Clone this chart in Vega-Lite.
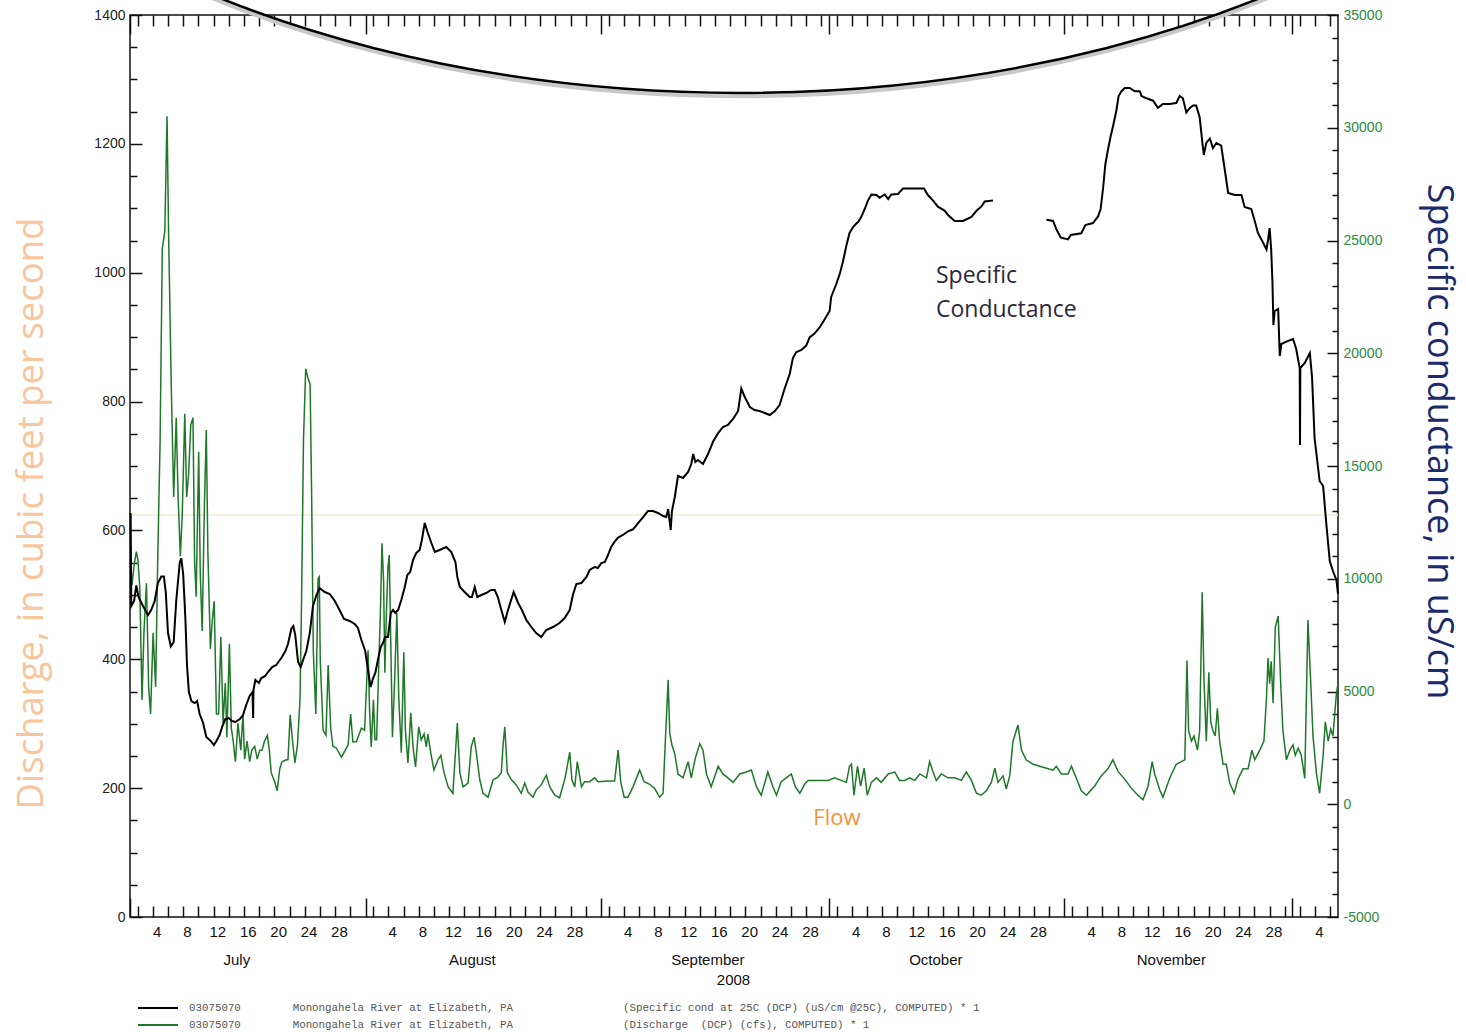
{
  "$schema": "https://vega.github.io/schema/vega-lite/v6.json",
  "width": 1208,
  "height": 902,
  "autosize": "none",
  "padding": {"left": 130, "top": 15, "right": 128, "bottom": 115},
  "background": "white",
  "params": [
    {"name": "xt", "expr": "[datetime(2008,6,1),datetime(2008,6,2),datetime(2008,6,4),datetime(2008,6,6),datetime(2008,6,8),datetime(2008,6,10),datetime(2008,6,12),datetime(2008,6,14),datetime(2008,6,16),datetime(2008,6,18),datetime(2008,6,20),datetime(2008,6,22),datetime(2008,6,24),datetime(2008,6,26),datetime(2008,6,28),datetime(2008,6,30),datetime(2008,7,1),datetime(2008,7,2),datetime(2008,7,4),datetime(2008,7,6),datetime(2008,7,8),datetime(2008,7,10),datetime(2008,7,12),datetime(2008,7,14),datetime(2008,7,16),datetime(2008,7,18),datetime(2008,7,20),datetime(2008,7,22),datetime(2008,7,24),datetime(2008,7,26),datetime(2008,7,28),datetime(2008,7,30),datetime(2008,8,1),datetime(2008,8,2),datetime(2008,8,4),datetime(2008,8,6),datetime(2008,8,8),datetime(2008,8,10),datetime(2008,8,12),datetime(2008,8,14),datetime(2008,8,16),datetime(2008,8,18),datetime(2008,8,20),datetime(2008,8,22),datetime(2008,8,24),datetime(2008,8,26),datetime(2008,8,28),datetime(2008,8,30),datetime(2008,9,1),datetime(2008,9,2),datetime(2008,9,4),datetime(2008,9,6),datetime(2008,9,8),datetime(2008,9,10),datetime(2008,9,12),datetime(2008,9,14),datetime(2008,9,16),datetime(2008,9,18),datetime(2008,9,20),datetime(2008,9,22),datetime(2008,9,24),datetime(2008,9,26),datetime(2008,9,28),datetime(2008,9,30),datetime(2008,10,1),datetime(2008,10,2),datetime(2008,10,4),datetime(2008,10,6),datetime(2008,10,8),datetime(2008,10,10),datetime(2008,10,12),datetime(2008,10,14),datetime(2008,10,16),datetime(2008,10,18),datetime(2008,10,20),datetime(2008,10,22),datetime(2008,10,24),datetime(2008,10,26),datetime(2008,10,28),datetime(2008,10,30),datetime(2008,11,1),datetime(2008,11,2),datetime(2008,11,4),datetime(2008,11,6)]"},
    {"name": "xd", "expr": "[datetime(2008,6,4,12),datetime(2008,6,8,12),datetime(2008,6,12,12),datetime(2008,6,16,12),datetime(2008,6,20,12),datetime(2008,6,24,12),datetime(2008,6,28,12),datetime(2008,7,4,12),datetime(2008,7,8,12),datetime(2008,7,12,12),datetime(2008,7,16,12),datetime(2008,7,20,12),datetime(2008,7,24,12),datetime(2008,7,28,12),datetime(2008,8,4,12),datetime(2008,8,8,12),datetime(2008,8,12,12),datetime(2008,8,16,12),datetime(2008,8,20,12),datetime(2008,8,24,12),datetime(2008,8,28,12),datetime(2008,9,4,12),datetime(2008,9,8,12),datetime(2008,9,12,12),datetime(2008,9,16,12),datetime(2008,9,20,12),datetime(2008,9,24,12),datetime(2008,9,28,12),datetime(2008,10,4,12),datetime(2008,10,8,12),datetime(2008,10,12,12),datetime(2008,10,16,12),datetime(2008,10,20,12),datetime(2008,10,24,12),datetime(2008,10,28,12),datetime(2008,11,4,12)]"},
    {"name": "xm", "expr": "[datetime(2008,6,15),datetime(2008,7,15),datetime(2008,8,15),datetime(2008,9,15),datetime(2008,10,15)]"}
  ],
  "datasets": {
    "flow": [
      {"t":"2008-07-01T02:00","q":554},{"t":"2008-07-01T06:00","q":515},{"t":"2008-07-01T13:00","q":546},{"t":"2008-07-01T20:00","q":567},
      {"t":"2008-07-02T01:00","q":554},{"t":"2008-07-02T07:00","q":511},{"t":"2008-07-02T14:00","q":337},{"t":"2008-07-02T20:00","q":441},
      {"t":"2008-07-03T04:00","q":518},{"t":"2008-07-03T11:00","q":357},{"t":"2008-07-03T17:00","q":315},{"t":"2008-07-04T01:00","q":441},
      {"t":"2008-07-04T09:00","q":357},{"t":"2008-07-04T16:00","q":567},{"t":"2008-07-04T23:00","q":736},{"t":"2008-07-05T06:00","q":1037},
      {"t":"2008-07-05T14:00","q":1065},{"t":"2008-07-05T21:00","q":1243},{"t":"2008-07-06T02:00","q":1059},{"t":"2008-07-06T10:00","q":833},
      {"t":"2008-07-06T18:00","q":652},{"t":"2008-07-07T02:00","q":775},{"t":"2008-07-07T08:00","q":652},{"t":"2008-07-07T15:00","q":560},
      {"t":"2008-07-07T21:00","q":624},{"t":"2008-07-08T05:00","q":781},{"t":"2008-07-08T11:00","q":652},{"t":"2008-07-08T17:00","q":686},
      {"t":"2008-07-09T00:00","q":764},{"t":"2008-07-09T07:00","q":775},{"t":"2008-07-09T12:00","q":553},{"t":"2008-07-09T17:00","q":497},
      {"t":"2008-07-10T01:00","q":722},{"t":"2008-07-10T06:00","q":532},{"t":"2008-07-10T12:00","q":444},{"t":"2008-07-10T19:00","q":638},
      {"t":"2008-07-11T01:00","q":756},{"t":"2008-07-11T06:00","q":567},{"t":"2008-07-11T14:00","q":416},{"t":"2008-07-11T20:00","q":461},
      {"t":"2008-07-12T02:00","q":490},{"t":"2008-07-12T09:00","q":315},{"t":"2008-07-12T16:00","q":315},{"t":"2008-07-12T23:00","q":435},
      {"t":"2008-07-13T06:00","q":301},{"t":"2008-07-13T13:00","q":363},{"t":"2008-07-13T18:00","q":279},{"t":"2008-07-14T02:00","q":424},
      {"t":"2008-07-14T08:00","q":293},{"t":"2008-07-14T14:00","q":273},{"t":"2008-07-14T21:00","q":241},{"t":"2008-07-15T05:00","q":301},
      {"t":"2008-07-15T14:00","q":259},{"t":"2008-07-15T21:00","q":315},{"t":"2008-07-16T02:00","q":245},{"t":"2008-07-16T10:00","q":273},
      {"t":"2008-07-16T18:00","q":241},{"t":"2008-07-17T01:00","q":259},{"t":"2008-07-17T10:00","q":265},{"t":"2008-07-17T18:00","q":245},
      {"t":"2008-07-18T02:00","q":259},{"t":"2008-07-18T09:00","q":259},{"t":"2008-07-18T17:00","q":273},{"t":"2008-07-19T02:00","q":282},
      {"t":"2008-07-19T08:00","q":259},{"t":"2008-07-19T14:00","q":224},{"t":"2008-07-20T01:00","q":210},{"t":"2008-07-20T09:00","q":196},
      {"t":"2008-07-20T17:00","q":230},{"t":"2008-07-21T00:00","q":241},{"t":"2008-07-21T14:00","q":244},{"t":"2008-07-21T19:00","q":244},
      {"t":"2008-07-22T02:00","q":314},{"t":"2008-07-22T09:00","q":275},{"t":"2008-07-22T17:00","q":239},{"t":"2008-07-23T01:00","q":267},
      {"t":"2008-07-23T09:00","q":337},{"t":"2008-07-23T14:00","q":492},{"t":"2008-07-23T20:00","q":740},{"t":"2008-07-24T03:00","q":851},
      {"t":"2008-07-24T10:00","q":837},{"t":"2008-07-24T17:00","q":827},{"t":"2008-07-24T22:00","q":647},{"t":"2008-07-25T03:00","q":414},
      {"t":"2008-07-25T11:00","q":315},{"t":"2008-07-25T18:00","q":525},{"t":"2008-07-25T22:00","q":528},{"t":"2008-07-26T01:00","q":399},
      {"t":"2008-07-26T10:00","q":290},{"t":"2008-07-26T19:00","q":282},{"t":"2008-07-27T02:00","q":391},{"t":"2008-07-27T10:00","q":293},
      {"t":"2008-07-27T17:00","q":265},{"t":"2008-07-28T04:00","q":262},{"t":"2008-07-28T20:00","q":248},{"t":"2008-07-29T17:00","q":267},
      {"t":"2008-07-30T01:00","q":315},{"t":"2008-07-30T08:00","q":272},{"t":"2008-07-30T19:00","q":272},{"t":"2008-07-31T11:00","q":293},
      {"t":"2008-07-31T21:00","q":290},{"t":"2008-08-01T08:00","q":414},{"t":"2008-08-01T13:00","q":317},{"t":"2008-08-01T18:00","q":264},
      {"t":"2008-08-02T01:00","q":337},{"t":"2008-08-02T06:00","q":275},{"t":"2008-08-02T11:00","q":275},{"t":"2008-08-02T18:00","q":394},
      {"t":"2008-08-02T23:00","q":472},{"t":"2008-08-03T04:00","q":580},{"t":"2008-08-03T09:00","q":523},{"t":"2008-08-03T13:00","q":379},
      {"t":"2008-08-03T18:00","q":472},{"t":"2008-08-03T23:00","q":543},{"t":"2008-08-04T03:00","q":562},{"t":"2008-08-04T08:00","q":419},
      {"t":"2008-08-04T13:00","q":279},{"t":"2008-08-04T20:00","q":368},{"t":"2008-08-05T03:00","q":472},{"t":"2008-08-05T09:00","q":341},
      {"t":"2008-08-05T17:00","q":255},{"t":"2008-08-06T01:00","q":411},{"t":"2008-08-06T06:00","q":290},{"t":"2008-08-06T14:00","q":239},
      {"t":"2008-08-06T23:00","q":317},{"t":"2008-08-07T06:00","q":264},{"t":"2008-08-07T14:00","q":233},{"t":"2008-08-08T00:00","q":295},
      {"t":"2008-08-08T08:00","q":275},{"t":"2008-08-08T17:00","q":284},{"t":"2008-08-09T00:00","q":264},{"t":"2008-08-09T05:00","q":284},
      {"t":"2008-08-09T14:00","q":255},{"t":"2008-08-10T00:00","q":228},{"t":"2008-08-10T13:00","q":244},{"t":"2008-08-10T22:00","q":251},
      {"t":"2008-08-11T08:00","q":224},{"t":"2008-08-11T21:00","q":202},{"t":"2008-08-12T12:00","q":192},{"t":"2008-08-12T20:00","q":255},
      {"t":"2008-08-13T02:00","q":301},{"t":"2008-08-13T10:00","q":224},{"t":"2008-08-13T20:00","q":202},{"t":"2008-08-14T12:00","q":208},
      {"t":"2008-08-14T22:00","q":264},{"t":"2008-08-15T07:00","q":279},{"t":"2008-08-15T14:00","q":255},{"t":"2008-08-16T01:00","q":213},
      {"t":"2008-08-16T11:00","q":192},{"t":"2008-08-17T03:00","q":186},{"t":"2008-08-17T19:00","q":213},{"t":"2008-08-18T10:00","q":217},
      {"t":"2008-08-18T21:00","q":224},{"t":"2008-08-19T02:00","q":264},{"t":"2008-08-19T08:00","q":295},{"t":"2008-08-19T16:00","q":224},
      {"t":"2008-08-20T05:00","q":213},{"t":"2008-08-20T20:00","q":205},{"t":"2008-08-21T12:00","q":192},{"t":"2008-08-21T23:00","q":208},
      {"t":"2008-08-22T09:00","q":194},{"t":"2008-08-23T01:00","q":186},{"t":"2008-08-23T11:00","q":197},{"t":"2008-08-24T03:00","q":205},
      {"t":"2008-08-24T19:00","q":220},{"t":"2008-08-25T06:00","q":202},{"t":"2008-08-25T22:00","q":189},{"t":"2008-08-26T13:00","q":185},
      {"t":"2008-08-27T05:00","q":213},{"t":"2008-08-27T13:00","q":233},{"t":"2008-08-27T21:00","q":256},{"t":"2008-08-28T04:00","q":213},
      {"t":"2008-08-28T13:00","q":202},{"t":"2008-08-28T21:00","q":241},{"t":"2008-08-29T10:00","q":202},{"t":"2008-08-29T20:00","q":210},
      {"t":"2008-08-30T12:00","q":210},{"t":"2008-08-31T04:00","q":216},{"t":"2008-08-31T14:00","q":210},{"t":"2008-09-01T22:00","q":211},
      {"t":"2008-09-02T19:00","q":211},{"t":"2008-09-03T06:00","q":259},{"t":"2008-09-03T14:00","q":210},{"t":"2008-09-04T01:00","q":186},
      {"t":"2008-09-04T13:00","q":186},{"t":"2008-09-05T05:00","q":202},{"t":"2008-09-06T02:00","q":228},{"t":"2008-09-06T16:00","q":210},
      {"t":"2008-09-07T10:00","q":206},{"t":"2008-09-08T02:00","q":199},{"t":"2008-09-08T17:00","q":186},{"t":"2008-09-09T04:00","q":192},
      {"t":"2008-09-09T11:00","q":272},{"t":"2008-09-09T20:00","q":368},{"t":"2008-09-10T01:00","q":285},{"t":"2008-09-10T08:00","q":267},
      {"t":"2008-09-10T17:00","q":253},{"t":"2008-09-11T03:00","q":222},{"t":"2008-09-11T19:00","q":216},{"t":"2008-09-12T11:00","q":241},
      {"t":"2008-09-12T21:00","q":216},{"t":"2008-09-13T10:00","q":247},{"t":"2008-09-14T00:00","q":269},{"t":"2008-09-14T10:00","q":259},
      {"t":"2008-09-14T21:00","q":222},{"t":"2008-09-15T12:00","q":202},{"t":"2008-09-16T10:00","q":234},{"t":"2008-09-17T01:00","q":222},
      {"t":"2008-09-17T17:00","q":216},{"t":"2008-09-18T09:00","q":209},{"t":"2008-09-19T06:00","q":222},{"t":"2008-09-20T03:00","q":225},
      {"t":"2008-09-20T19:00","q":228},{"t":"2008-09-21T11:00","q":202},{"t":"2008-09-22T02:00","q":189},{"t":"2008-09-22T23:00","q":225},
      {"t":"2008-09-23T15:00","q":202},{"t":"2008-09-24T02:00","q":189},{"t":"2008-09-24T17:00","q":210},{"t":"2008-09-25T09:00","q":216},
      {"t":"2008-09-26T01:00","q":222},{"t":"2008-09-26T14:00","q":202},{"t":"2008-09-27T04:00","q":192},{"t":"2008-09-27T19:00","q":206},
      {"t":"2008-09-28T06:00","q":212},{"t":"2008-09-29T03:00","q":212},{"t":"2008-09-30T00:00","q":212},{"t":"2008-09-30T21:00","q":212},
      {"t":"2008-10-01T18:00","q":216},{"t":"2008-10-02T15:00","q":212},{"t":"2008-10-03T07:00","q":209},{"t":"2008-10-03T17:00","q":234},
      {"t":"2008-10-03T23:00","q":237},{"t":"2008-10-04T07:00","q":189},{"t":"2008-10-04T18:00","q":234},{"t":"2008-10-05T04:00","q":203},
      {"t":"2008-10-05T15:00","q":231},{"t":"2008-10-06T01:00","q":189},{"t":"2008-10-06T14:00","q":209},{"t":"2008-10-07T06:00","q":216},
      {"t":"2008-10-07T21:00","q":209},{"t":"2008-10-08T19:00","q":222},{"t":"2008-10-09T16:00","q":225},{"t":"2008-10-10T07:00","q":212},
      {"t":"2008-10-10T23:00","q":212},{"t":"2008-10-11T15:00","q":216},{"t":"2008-10-12T07:00","q":212},{"t":"2008-10-12T23:00","q":222},
      {"t":"2008-10-13T20:00","q":216},{"t":"2008-10-14T06:00","q":241},{"t":"2008-10-14T17:00","q":225},{"t":"2008-10-15T03:00","q":212},
      {"t":"2008-10-15T19:00","q":222},{"t":"2008-10-16T16:00","q":216},{"t":"2008-10-17T13:00","q":216},{"t":"2008-10-18T10:00","q":212},
      {"t":"2008-10-19T02:00","q":225},{"t":"2008-10-19T18:00","q":212},{"t":"2008-10-20T10:00","q":192},{"t":"2008-10-21T01:00","q":189},
      {"t":"2008-10-21T17:00","q":196},{"t":"2008-10-22T09:00","q":209},{"t":"2008-10-22T20:00","q":231},{"t":"2008-10-23T06:00","q":209},
      {"t":"2008-10-23T22:00","q":219},{"t":"2008-10-24T08:00","q":199},{"t":"2008-10-24T19:00","q":219},{"t":"2008-10-25T05:00","q":272},
      {"t":"2008-10-25T21:00","q":298},{"t":"2008-10-26T08:00","q":259},{"t":"2008-10-26T23:00","q":244},{"t":"2008-10-27T21:00","q":237},
      {"t":"2008-10-28T18:00","q":234},{"t":"2008-10-29T15:00","q":231},{"t":"2008-10-30T12:00","q":228},{"t":"2008-10-30T22:00","q":234},
      {"t":"2008-10-31T14:00","q":222},{"t":"2008-11-01T11:00","q":222},{"t":"2008-11-01T22:00","q":234},{"t":"2008-11-02T13:00","q":216},
      {"t":"2008-11-03T05:00","q":196},{"t":"2008-11-03T21:00","q":189},{"t":"2008-11-04T23:00","q":203},{"t":"2008-11-05T20:00","q":219},
      {"t":"2008-11-06T17:00","q":230},{"t":"2008-11-07T09:00","q":244},{"t":"2008-11-08T01:00","q":226},{"t":"2008-11-08T22:00","q":214},
      {"t":"2008-11-09T19:00","q":200},{"t":"2008-11-10T16:00","q":189},{"t":"2008-11-11T08:00","q":182},{"t":"2008-11-12T00:00","q":203},
      {"t":"2008-11-12T13:00","q":241},{"t":"2008-11-12T21:00","q":222},{"t":"2008-11-13T13:00","q":197},{"t":"2008-11-13T23:00","q":186},
      {"t":"2008-11-14T20:00","q":215},{"t":"2008-11-15T17:00","q":237},{"t":"2008-11-16T20:00","q":244},{"t":"2008-11-17T03:00","q":398},
      {"t":"2008-11-17T08:00","q":289},{"t":"2008-11-17T17:00","q":273},{"t":"2008-11-18T01:00","q":281},{"t":"2008-11-18T12:00","q":259},
      {"t":"2008-11-18T19:00","q":289},{"t":"2008-11-19T03:00","q":504},{"t":"2008-11-19T09:00","q":362},{"t":"2008-11-19T16:00","q":273},
      {"t":"2008-11-20T00:00","q":380},{"t":"2008-11-20T06:00","q":303},{"t":"2008-11-20T13:00","q":289},{"t":"2008-11-20T20:00","q":281},
      {"t":"2008-11-21T03:00","q":324},{"t":"2008-11-21T10:00","q":273},{"t":"2008-11-21T21:00","q":237},{"t":"2008-11-22T07:00","q":237},
      {"t":"2008-11-22T18:00","q":208},{"t":"2008-11-23T08:00","q":192},{"t":"2008-11-23T20:00","q":214},{"t":"2008-11-24T12:00","q":230},
      {"t":"2008-11-25T04:00","q":230},{"t":"2008-11-25T16:00","q":259},{"t":"2008-11-26T01:00","q":244},{"t":"2008-11-26T17:00","q":259},
      {"t":"2008-11-27T06:00","q":273},{"t":"2008-11-27T14:00","q":340},{"t":"2008-11-27T19:00","q":402},{"t":"2008-11-28T00:00","q":362},
      {"t":"2008-11-28T05:00","q":397},{"t":"2008-11-28T11:00","q":332},{"t":"2008-11-28T18:00","q":450},{"t":"2008-11-29T03:00","q":467},
      {"t":"2008-11-29T11:00","q":362},{"t":"2008-11-29T18:00","q":289},{"t":"2008-11-30T05:00","q":244},{"t":"2008-11-30T16:00","q":259},
      {"t":"2008-12-01T02:00","q":267},{"t":"2008-12-01T09:00","q":251},{"t":"2008-12-01T18:00","q":262},{"t":"2008-12-02T04:00","q":251},
      {"t":"2008-12-02T15:00","q":215},{"t":"2008-12-03T01:00","q":461},{"t":"2008-12-03T10:00","q":362},{"t":"2008-12-03T17:00","q":281},
      {"t":"2008-12-04T04:00","q":222},{"t":"2008-12-04T14:00","q":192},{"t":"2008-12-05T01:00","q":251},{"t":"2008-12-05T08:00","q":303},
      {"t":"2008-12-05T17:00","q":273},{"t":"2008-12-06T01:00","q":292},{"t":"2008-12-06T08:00","q":281},{"t":"2008-12-06T19:00","q":347},
      {"t":"2008-12-07T00:00","q":362}
    ],
    "cond": [
      {"t":"2008-07-01T02:00","c":12916},{"t":"2008-07-01T04:00","c":8792},{"t":"2008-07-01T13:00","c":9013},{"t":"2008-07-01T20:00","c":9701},
      {"t":"2008-07-02T03:00","c":9191},{"t":"2008-07-02T17:00","c":8792},{"t":"2008-07-03T09:00","c":8392},{"t":"2008-07-03T19:00","c":8614},
      {"t":"2008-07-04T06:00","c":9013},{"t":"2008-07-04T16:00","c":9812},{"t":"2008-07-05T03:00","c":10100},{"t":"2008-07-05T11:00","c":10100},
      {"t":"2008-07-05T17:00","c":9412},{"t":"2008-07-06T00:00","c":7594},{"t":"2008-07-06T09:00","c":6996},{"t":"2008-07-06T18:00","c":7195},
      {"t":"2008-07-07T02:00","c":9013},{"t":"2008-07-07T13:00","c":10698},{"t":"2008-07-07T18:00","c":10902},{"t":"2008-07-08T00:00","c":10211},
      {"t":"2008-07-08T07:00","c":8215},{"t":"2008-07-08T12:00","c":6175},{"t":"2008-07-08T18:00","c":4978},{"t":"2008-07-09T02:00","c":4579},
      {"t":"2008-07-09T12:00","c":4490},{"t":"2008-07-09T20:00","c":4579},{"t":"2008-07-10T04:00","c":4002},{"t":"2008-07-10T15:00","c":3603},
      {"t":"2008-07-11T01:00","c":2982},{"t":"2008-07-11T15:00","c":2805},{"t":"2008-07-12T01:00","c":2627},{"t":"2008-07-12T09:00","c":2805},
      {"t":"2008-07-12T19:00","c":3071},{"t":"2008-07-13T04:00","c":3470},{"t":"2008-07-13T13:00","c":3780},{"t":"2008-07-14T00:00","c":3825},
      {"t":"2008-07-14T10:00","c":3692},{"t":"2008-07-14T21:00","c":3647},{"t":"2008-07-15T11:00","c":3780},{"t":"2008-07-15T21:00","c":3958},
      {"t":"2008-07-16T07:00","c":4401},{"t":"2008-07-16T18:00","c":4800},{"t":"2008-07-17T03:00","c":4978},{"t":"2008-07-17T05:00","c":3825},
      {"t":"2008-07-17T06:00","c":5067},{"t":"2008-07-17T12:00","c":5510},{"t":"2008-07-17T23:00","c":5377},{"t":"2008-07-18T07:00","c":5599},
      {"t":"2008-07-18T19:00","c":5687},{"t":"2008-07-19T04:00","c":5865},{"t":"2008-07-19T17:00","c":6086},{"t":"2008-07-20T06:00","c":6175},
      {"t":"2008-07-20T22:00","c":6486},{"t":"2008-07-21T11:00","c":6796},{"t":"2008-07-21T19:00","c":7106},{"t":"2008-07-22T06:00","c":7794},
      {"t":"2008-07-22T12:00","c":7905},{"t":"2008-07-22T18:00","c":7506},{"t":"2008-07-23T03:00","c":6308},{"t":"2008-07-23T11:00","c":6086},
      {"t":"2008-07-23T21:00","c":6486},{"t":"2008-07-24T05:00","c":6796},{"t":"2008-07-24T16:00","c":7594},{"t":"2008-07-25T02:00","c":8792},
      {"t":"2008-07-25T13:00","c":9279},{"t":"2008-07-25T23:00","c":9590},{"t":"2008-07-26T15:00","c":9412},{"t":"2008-07-27T07:00","c":9324},
      {"t":"2008-07-27T23:00","c":9013},{"t":"2008-07-28T14:00","c":8614},{"t":"2008-07-29T04:00","c":8215},{"t":"2008-07-29T22:00","c":8126},
      {"t":"2008-07-30T14:00","c":7993},{"t":"2008-07-31T00:00","c":7816},{"t":"2008-07-31T11:00","c":7284},{"t":"2008-07-31T23:00","c":6796},
      {"t":"2008-08-01T09:00","c":5865},{"t":"2008-08-01T16:00","c":5200},{"t":"2008-08-02T00:00","c":5599},{"t":"2008-08-02T07:00","c":5820},
      {"t":"2008-08-02T15:00","c":6397},{"t":"2008-08-03T00:00","c":6973},{"t":"2008-08-03T07:00","c":7151},{"t":"2008-08-03T14:00","c":7417},
      {"t":"2008-08-03T23:00","c":7417},{"t":"2008-08-04T08:00","c":8481},{"t":"2008-08-04T15:00","c":8614},{"t":"2008-08-04T22:00","c":8481},
      {"t":"2008-08-05T07:00","c":8614},{"t":"2008-08-05T17:00","c":9058},{"t":"2008-08-06T04:00","c":9634},{"t":"2008-08-06T12:00","c":10166},
      {"t":"2008-08-06T21:00","c":10299},{"t":"2008-08-07T06:00","c":10832},{"t":"2008-08-07T16:00","c":11142},{"t":"2008-08-08T03:00","c":11275},
      {"t":"2008-08-08T10:00","c":11719},{"t":"2008-08-08T19:00","c":12472},{"t":"2008-08-09T05:00","c":12029},{"t":"2008-08-09T16:00","c":11585},
      {"t":"2008-08-10T03:00","c":11186},{"t":"2008-08-10T18:00","c":11275},{"t":"2008-08-11T15:00","c":11408},{"t":"2008-08-12T07:00","c":11186},
      {"t":"2008-08-12T20:00","c":10743},{"t":"2008-08-13T02:00","c":10078},{"t":"2008-08-13T10:00","c":9634},{"t":"2008-08-14T01:00","c":9412},
      {"t":"2008-08-14T17:00","c":9191},{"t":"2008-08-15T00:00","c":9191},{"t":"2008-08-15T09:00","c":9634},{"t":"2008-08-15T17:00","c":9191},
      {"t":"2008-08-16T06:00","c":9279},{"t":"2008-08-16T21:00","c":9368},{"t":"2008-08-17T13:00","c":9501},{"t":"2008-08-18T00:00","c":9501},
      {"t":"2008-08-18T10:00","c":9191},{"t":"2008-08-18T21:00","c":8614},{"t":"2008-08-19T08:00","c":8082},{"t":"2008-08-19T18:00","c":8614},
      {"t":"2008-08-20T12:00","c":9412},{"t":"2008-08-21T02:00","c":8925},{"t":"2008-08-21T14:00","c":8614},{"t":"2008-08-22T04:00","c":8171},
      {"t":"2008-08-22T20:00","c":7860},{"t":"2008-08-23T11:00","c":7594},{"t":"2008-08-24T03:00","c":7417},{"t":"2008-08-24T19:00","c":7727},
      {"t":"2008-08-25T16:00","c":7860},{"t":"2008-08-26T13:00","c":8038},{"t":"2008-08-27T05:00","c":8259},{"t":"2008-08-27T21:00","c":8614},
      {"t":"2008-08-28T07:00","c":9279},{"t":"2008-08-28T18:00","c":9767},{"t":"2008-08-29T10:00","c":9812},{"t":"2008-08-30T02:00","c":10078},
      {"t":"2008-08-30T12:00","c":10388},{"t":"2008-08-31T04:00","c":10521},{"t":"2008-08-31T14:00","c":10477},{"t":"2008-09-01T01:00","c":10698},
      {"t":"2008-09-01T12:00","c":10743},{"t":"2008-09-01T22:00","c":11053},{"t":"2008-09-02T08:00","c":11408},{"t":"2008-09-02T19:00","c":11648},
      {"t":"2008-09-03T06:00","c":11829},{"t":"2008-09-03T21:00","c":11940},{"t":"2008-09-04T13:00","c":12100},{"t":"2008-09-05T05:00","c":12193},
      {"t":"2008-09-05T21:00","c":12463},{"t":"2008-09-06T13:00","c":12734},{"t":"2008-09-07T04:00","c":13004},{"t":"2008-09-07T20:00","c":13004},
      {"t":"2008-09-08T12:00","c":12916},{"t":"2008-09-09T04:00","c":12783},{"t":"2008-09-09T14:00","c":12739},{"t":"2008-09-09T20:00","c":13093},
      {"t":"2008-09-10T04:00","c":12162},{"t":"2008-09-10T08:00","c":13004},{"t":"2008-09-10T17:00","c":13625},{"t":"2008-09-11T03:00","c":14557},
      {"t":"2008-09-11T19:00","c":14468},{"t":"2008-09-12T11:00","c":14734},{"t":"2008-09-12T21:00","c":15089},{"t":"2008-09-13T03:00","c":15532},
      {"t":"2008-09-13T10:00","c":15177},{"t":"2008-09-13T18:00","c":15266},{"t":"2008-09-14T10:00","c":15089},{"t":"2008-09-15T02:00","c":15532},
      {"t":"2008-09-15T18:00","c":16086},{"t":"2008-09-16T10:00","c":16463},{"t":"2008-09-17T01:00","c":16730},{"t":"2008-09-17T17:00","c":16818},
      {"t":"2008-09-18T09:00","c":17084},{"t":"2008-09-19T01:00","c":17439},{"t":"2008-09-19T11:00","c":18437},{"t":"2008-09-19T22:00","c":18060},
      {"t":"2008-09-20T14:00","c":17616},{"t":"2008-09-21T05:00","c":17483},{"t":"2008-09-21T21:00","c":17439},{"t":"2008-09-22T13:00","c":17350},
      {"t":"2008-09-23T05:00","c":17262},{"t":"2008-09-23T21:00","c":17439},{"t":"2008-09-24T12:00","c":17705},{"t":"2008-09-25T04:00","c":18437},
      {"t":"2008-09-25T20:00","c":19080},{"t":"2008-09-26T06:00","c":19789},{"t":"2008-09-26T17:00","c":20055},{"t":"2008-09-27T09:00","c":20144},
      {"t":"2008-09-28T00:00","c":20339},{"t":"2008-09-28T11:00","c":20703},{"t":"2008-09-29T03:00","c":20885},{"t":"2008-09-29T19:00","c":21155},
      {"t":"2008-09-30T11:00","c":21519},{"t":"2008-10-01T02:00","c":21874},{"t":"2008-10-01T07:00","c":22494},{"t":"2008-10-01T23:00","c":23071},
      {"t":"2008-10-02T10:00","c":23515},{"t":"2008-10-02T20:00","c":24047},{"t":"2008-10-03T07:00","c":24778},{"t":"2008-10-03T17:00","c":25333},
      {"t":"2008-10-04T04:00","c":25599},{"t":"2008-10-04T13:00","c":25732},{"t":"2008-10-04T20:00","c":25821},{"t":"2008-10-05T06:00","c":26042},
      {"t":"2008-10-05T17:00","c":26397},{"t":"2008-10-06T03:00","c":26770},{"t":"2008-10-06T14:00","c":27040},{"t":"2008-10-07T06:00","c":27018},
      {"t":"2008-10-07T16:00","c":26894},{"t":"2008-10-08T08:00","c":27040},{"t":"2008-10-08T19:00","c":26840},{"t":"2008-10-09T05:00","c":27040},
      {"t":"2008-10-10T02:00","c":27062},{"t":"2008-10-10T18:00","c":27311},{"t":"2008-10-12T07:00","c":27311},{"t":"2008-10-13T12:00","c":27311},
      {"t":"2008-10-14T01:00","c":27004},{"t":"2008-10-14T17:00","c":26770},{"t":"2008-10-15T08:00","c":26499},{"t":"2008-10-16T06:00","c":26317},
      {"t":"2008-10-16T16:00","c":26131},{"t":"2008-10-17T13:00","c":25865},{"t":"2008-10-18T15:00","c":25865},{"t":"2008-10-19T18:00","c":26042},
      {"t":"2008-10-20T10:00","c":26317},{"t":"2008-10-21T01:00","c":26499},{"t":"2008-10-21T12:00","c":26734},{"t":"2008-10-22T14:00","c":26770},
      {"t":"2008-10-26T00:00","c":null},
      {"t":"2008-10-29T15:00","c":25918},{"t":"2008-10-30T12:00","c":25865},{"t":"2008-10-30T22:00","c":25510},{"t":"2008-10-31T12:00","c":25138},
      {"t":"2008-11-01T11:00","c":25049},{"t":"2008-11-01T20:00","c":25244},{"t":"2008-11-03T05:00","c":25319},{"t":"2008-11-03T18:00","c":25687},
      {"t":"2008-11-04T18:00","c":25776},{"t":"2008-11-05T10:00","c":26069},{"t":"2008-11-05T18:00","c":26383},{"t":"2008-11-06T02:00","c":27328},
      {"t":"2008-11-06T09:00","c":28370},{"t":"2008-11-06T17:00","c":29000},{"t":"2008-11-07T02:00","c":29634},{"t":"2008-11-07T09:00","c":30047},
      {"t":"2008-11-07T20:00","c":30778},{"t":"2008-11-08T03:00","c":31408},{"t":"2008-11-08T12:00","c":31617},{"t":"2008-11-08T22:00","c":31763},
      {"t":"2008-11-09T14:00","c":31763},{"t":"2008-11-10T06:00","c":31617},{"t":"2008-11-10T22:00","c":31617},{"t":"2008-11-11T03:00","c":31408},
      {"t":"2008-11-11T19:00","c":31306},{"t":"2008-11-12T16:00","c":31200},{"t":"2008-11-13T07:00","c":30885},{"t":"2008-11-13T23:00","c":31053},
      {"t":"2008-11-14T20:00","c":31053},{"t":"2008-11-15T17:00","c":31098},{"t":"2008-11-16T04:00","c":31408},{"t":"2008-11-16T14:00","c":31306},
      {"t":"2008-11-17T01:00","c":30676},{"t":"2008-11-17T12:00","c":30876},{"t":"2008-11-17T22:00","c":30991},{"t":"2008-11-18T08:00","c":30991},
      {"t":"2008-11-18T19:00","c":30468},{"t":"2008-11-19T03:00","c":29412},{"t":"2008-11-19T08:00","c":28792},{"t":"2008-11-19T16:00","c":29324},
      {"t":"2008-11-20T03:00","c":29523},{"t":"2008-11-20T13:00","c":29102},{"t":"2008-11-21T00:00","c":29324},{"t":"2008-11-21T15:00","c":29209},
      {"t":"2008-11-22T02:00","c":28171},{"t":"2008-11-22T13:00","c":27106},{"t":"2008-11-23T10:00","c":27018},{"t":"2008-11-24T07:00","c":27018},
      {"t":"2008-11-24T17:00","c":26486},{"t":"2008-11-25T14:00","c":26397},{"t":"2008-11-26T01:00","c":25865},{"t":"2008-11-26T11:00","c":25333},
      {"t":"2008-11-27T03:00","c":24916},{"t":"2008-11-27T14:00","c":24601},{"t":"2008-11-27T19:00","c":25022},{"t":"2008-11-28T00:00","c":25554},
      {"t":"2008-11-28T05:00","c":24579},{"t":"2008-11-28T09:00","c":23115},{"t":"2008-11-28T12:00","c":21253},{"t":"2008-11-28T16:00","c":21874},
      {"t":"2008-11-29T03:00","c":21962},{"t":"2008-11-29T08:00","c":19878},{"t":"2008-11-29T13:00","c":20410},{"t":"2008-11-30T05:00","c":20517},
      {"t":"2008-12-01T02:00","c":20632},{"t":"2008-12-01T12:00","c":20188},{"t":"2008-12-01T23:00","c":19346},{"t":"2008-12-02T00:00","c":15931},
      {"t":"2008-12-02T01:00","c":19346},{"t":"2008-12-02T15:00","c":19568},{"t":"2008-12-03T07:00","c":20011},{"t":"2008-12-03T14:00","c":18947},
      {"t":"2008-12-03T22:00","c":16242},{"t":"2008-12-04T14:00","c":14335},{"t":"2008-12-05T01:00","c":14113},{"t":"2008-12-05T11:00","c":12450},
      {"t":"2008-12-05T22:00","c":10787},{"t":"2008-12-06T08:00","c":10344},{"t":"2008-12-06T19:00","c":9945},{"t":"2008-12-07T00:00","c":9324}
    ]
  },
  "layer": [
    {
      "data": {"values": [{}]},
      "mark": {"type": "rule", "color": "#eeead6", "strokeWidth": 1.5},
      "encoding": {
        "y": {"datum": 624, "type": "quantitative", "scale": {"domain": [0, 1400], "nice": false, "zero": false}, "axis": null}
      }
    },
    {
      "data": {"name": "flow"},
      "mark": {"type": "line", "strokeWidth": 1.5, "interpolate": "linear"},
      "encoding": {
        "x": {"field": "t", "type": "temporal",
          "scale": {"domain": [{"year": 2008, "month": 7, "date": 1}, {"year": 2008, "month": 12, "date": 7}], "nice": false},
          "axis": {"orient": "bottom", "values": {"expr": "xt"}, "labels": false, "domain": false, "grid": false, "title": null,
            "tickColor": "#111111", "tickWidth": 1.5,
            "tickSize": {"condition": {"test": "date(datum.value) == 1", "value": -19}, "value": -11}}},
        "y": {"field": "q", "type": "quantitative",
          "scale": {"domain": [0, 1400], "nice": false, "zero": false},
          "axis": {"orient": "left", "values": [0,50,100,150,200,250,300,350,400,450,500,550,600,650,700,750,800,850,900,950,1000,1050,1100,1150,1200,1250,1300,1350,1400],
            "labels": false, "domain": false, "grid": false, "title": null, "tickColor": "#111111", "tickWidth": 1.5,
            "tickSize": {"condition": {"test": "datum.value % 200 == 0", "value": -12}, "value": -7}}},
        "color": {"datum": "03075070\u00a0\u00a0\u00a0\u00a0\u00a0\u00a0\u00a0\u00a0Monongahela River at Elizabeth, PA\u00a0\u00a0\u00a0\u00a0\u00a0\u00a0\u00a0\u00a0\u00a0\u00a0\u00a0\u00a0\u00a0\u00a0\u00a0\u00a0\u00a0(Discharge\u00a0\u00a0(DCP) (cfs), COMPUTED) * 1", "type": "nominal",
          "scale": {"domain": ["03075070\u00a0\u00a0\u00a0\u00a0\u00a0\u00a0\u00a0\u00a0Monongahela River at Elizabeth, PA\u00a0\u00a0\u00a0\u00a0\u00a0\u00a0\u00a0\u00a0\u00a0\u00a0\u00a0\u00a0\u00a0\u00a0\u00a0\u00a0\u00a0(Specific cond at 25C (DCP) (uS/cm @25C), COMPUTED) * 1", "03075070\u00a0\u00a0\u00a0\u00a0\u00a0\u00a0\u00a0\u00a0Monongahela River at Elizabeth, PA\u00a0\u00a0\u00a0\u00a0\u00a0\u00a0\u00a0\u00a0\u00a0\u00a0\u00a0\u00a0\u00a0\u00a0\u00a0\u00a0\u00a0(Discharge\u00a0\u00a0(DCP) (cfs), COMPUTED) * 1"], "range": ["#000000", "#1e7828"]},
          "legend": {"orient": "none", "legendX": 22, "legendY": 987, "title": null, "padding": 0,
            "symbolType": "M-4,0H4", "symbolSize": 100, "symbolStrokeWidth": 2,
            "labelFont": "Liberation Mono", "labelFontSize": 10.8, "labelColor": "#555555", "labelLimit": 0, "labelOffset": 25, "rowPadding": 6}}
      }
    },
    {
      "data": {"name": "cond"},
      "mark": {"type": "line", "strokeWidth": 2, "interpolate": "linear", "invalid": "break-paths-show-domains"},
      "encoding": {
        "x": {"field": "t", "type": "temporal",
          "scale": {"domain": [{"year": 2008, "month": 7, "date": 1}, {"year": 2008, "month": 12, "date": 7}], "nice": false},
          "axis": {"orient": "top", "values": {"expr": "xt"}, "labels": false, "domain": false, "grid": false, "title": null,
            "tickColor": "#111111", "tickWidth": 1.5,
            "tickSize": {"condition": {"test": "date(datum.value) == 1", "value": -19}, "value": -11}}},
        "y": {"field": "c", "type": "quantitative",
          "scale": {"domain": [-5000, 35000], "nice": false, "zero": false},
          "axis": {"orient": "right", "values": [-5000,-4000,-3000,-2000,-1000,0,1000,2000,3000,4000,5000,6000,7000,8000,9000,10000,11000,12000,13000,14000,15000,16000,17000,18000,19000,20000,21000,22000,23000,24000,25000,26000,27000,28000,29000,30000,31000,32000,33000,34000,35000],
            "labels": false, "domain": false, "grid": false, "title": null, "tickColor": "#111111", "tickWidth": 1.5,
            "tickSize": {"condition": {"test": "datum.value % 5000 == 0", "value": -11}, "value": -6}}},
        "color": {"datum": "03075070\u00a0\u00a0\u00a0\u00a0\u00a0\u00a0\u00a0\u00a0Monongahela River at Elizabeth, PA\u00a0\u00a0\u00a0\u00a0\u00a0\u00a0\u00a0\u00a0\u00a0\u00a0\u00a0\u00a0\u00a0\u00a0\u00a0\u00a0\u00a0(Specific cond at 25C (DCP) (uS/cm @25C), COMPUTED) * 1", "type": "nominal"}
      }
    },
    {
      "data": {"values": [{}]},
      "mark": {"type": "text", "text": "Flow", "font": "Open Sans", "fontSize": 22, "color": "#f0923a", "align": "center", "baseline": "middle"},
      "encoding": {
        "x": {"datum": {"year": 2008, "month": 10, "date": 2, "hours": 1}, "type": "temporal",
          "axis": {"orient": "bottom", "values": {"expr": "xd"}, "format": "%-d", "ticks": false, "domain": false, "grid": false, "title": null,
            "labelFont": "Liberation Sans", "labelFontSize": 15, "labelColor": "#111111", "labelPadding": 7}},
        "y": {"datum": 154, "type": "quantitative", "scale": {"domain": [0, 1400], "nice": false, "zero": false},
          "axis": {"orient": "left", "values": [0,200,400,600,800,1000,1200,1400], "labelExpr": "'' + datum.value", "ticks": false, "domain": false, "grid": false,
            "labelFont": "Liberation Sans", "labelFontSize": 14, "labelColor": "#222222", "labelPadding": 5,
            "title": "Discharge, in cubic feet per second", "titleFont": "Open Sans", "titleFontSize": 36.5, "titleFontWeight": "normal",
            "titleColor": "#f8c59c", "titleAngle": -90, "titleAlign": "center", "titleBaseline": "middle", "titleX": -99, "titleY": 498}}
      }
    },
    {
      "data": {"values": [{}]},
      "mark": {"type": "text", "text": ["Specific", "Conductance"], "lineHeight": 34, "font": "Open Sans", "fontSize": 23, "color": "#2b2840", "align": "left", "baseline": "middle"},
      "encoding": {
        "x": {"datum": {"year": 2008, "month": 10, "date": 15, "hours": 2}, "type": "temporal",
          "axis": {"orient": "bottom", "values": {"expr": "xm"}, "format": "%B", "ticks": false, "domain": false, "grid": false,
            "labelFont": "Liberation Sans", "labelFontSize": 15, "labelColor": "#111111", "labelPadding": 35,
            "title": "2008", "titleFont": "Liberation Sans", "titleFontSize": 15, "titleFontWeight": "normal", "titleColor": "#111111",
            "titleX": 603, "titleY": 62, "titleAlign": "center", "titleBaseline": "middle"}},
        "y": {"datum": 23426, "type": "quantitative", "scale": {"domain": [-5000, 35000], "nice": false, "zero": false},
          "axis": {"orient": "right", "values": [-5000,0,5000,10000,15000,20000,25000,30000,35000], "labelExpr": "'' + datum.value", "ticks": false, "domain": false, "grid": false,
            "labelFont": "Liberation Sans", "labelFontSize": 14, "labelColor": "#2e8b3c", "labelPadding": 5,
            "title": "Specific conductance, in uS/cm", "titleFont": "Open Sans", "titleFontSize": 36, "titleFontWeight": "normal",
            "titleColor": "#1b2a6b", "titleAngle": 90, "titleAlign": "center", "titleBaseline": "middle", "titleX": 100, "titleY": 426}}
      }
    },
    {
      "data": {"values": [{}]},
      "mark": {"type": "point", "filled": false, "fill": null, "stroke": "#c8c8c8", "strokeWidth": 4, "opacity": 1, "size": 3572100,
        "shape": "M-1,0C-1,-0.3366,-0.5523,-0.6095,0,-0.6095C0.5523,-0.6095,1,-0.3366,1,0C1,0.3366,0.5523,0.6095,0,0.6095C-0.5523,0.6095,-1,0.3366,-1,0Z"},
      "encoding": {
        "x": {"datum": {"year": 2008, "month": 9, "date": 19, "hours": 7}, "type": "temporal", "axis": null},
        "y": {"datum": 2168, "type": "quantitative", "scale": {"domain": [0, 1400], "nice": false, "zero": false}, "axis": null}
      }
    },
    {
      "data": {"values": [{}]},
      "mark": {"type": "point", "filled": false, "fill": null, "stroke": "#000000", "strokeWidth": 2.5, "opacity": 1, "size": 3572100,
        "shape": "M-1,0C-1,-0.3366,-0.5523,-0.6095,0,-0.6095C0.5523,-0.6095,1,-0.3366,1,0C1,0.3366,0.5523,0.6095,0,0.6095C-0.5523,0.6095,-1,0.3366,-1,0Z"},
      "encoding": {
        "x": {"datum": {"year": 2008, "month": 9, "date": 19, "hours": 7}, "type": "temporal", "axis": null},
        "y": {"datum": 2173, "type": "quantitative", "scale": {"domain": [0, 1400], "nice": false, "zero": false}, "axis": null}
      }
    }
  ],
  "resolve": {
    "scale": {"y": "independent", "x": "shared"},
    "axis": {"y": "independent", "x": "independent"}
  },
  "config": {
    "view": {"stroke": "#111111", "strokeWidth": 1.5},
    "font": "Liberation Sans",
    "axis": {"grid": false, "domain": false}
  }
}
